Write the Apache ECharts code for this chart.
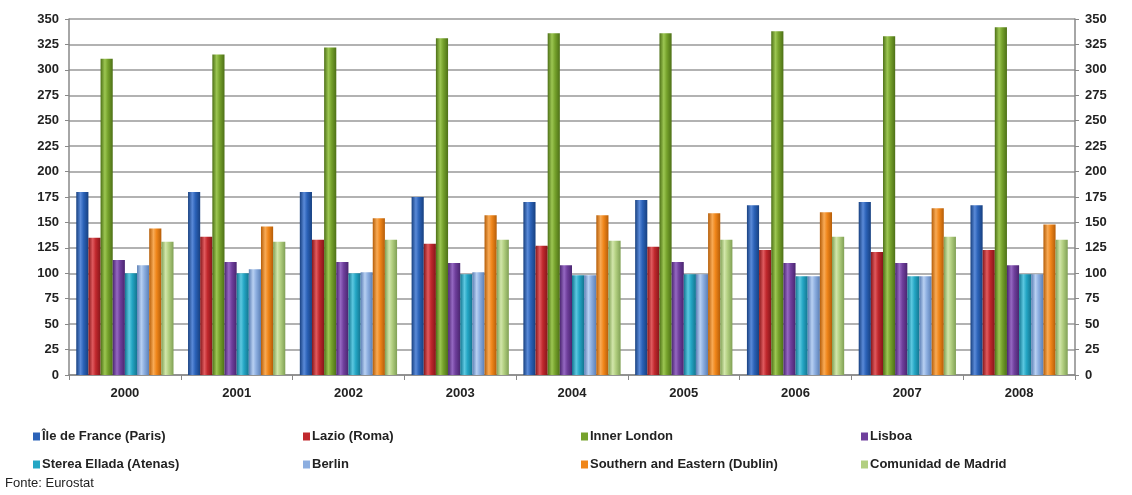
<!DOCTYPE html>
<html>
<head>
<meta charset="utf-8">
<script src="https://cdn.jsdelivr.net/npm/echarts@6/dist/echarts.min.js"></script>
<style>
html,body{margin:0;padding:0;background:#fff;}
#c{width:1132px;height:495px;}
</style>
</head>
<body>
<div id="c"></div>
<script>
const years = ['2000','2001','2002','2003','2004','2005','2006','2007','2008'];
const yTicks = [0,25,50,75,100,125,150,175,200,225,250,275,300,325,350];
const names = ['Île de France (Paris)','Lazio (Roma)','Inner London','Lisboa','Sterea Ellada (Atenas)','Berlin','Southern and Eastern (Dublin)','Comunidad de Madrid'];
const paris   = [180,180,180,175,170,172,167,170,167];
const roma    = [135,136,133,129,127,126,123,121,123];
const london  = [311,315,322,331,336,336,338,333,342];
const lisboa  = [113,111,111,110,108,111,110,110,108];
const atenas  = [100,100,100,99,98,99,97,97,99];
const berlin  = [108,104,101,101,98,99,97,97,99];
const dublin  = [144,146,154,157,157,159,160,164,148];
const madrid  = [131,131,133,133,132,133,136,136,133];
const seriesValues = [paris,roma,london,lisboa,atenas,berlin,dublin,madrid];
const colors = ['#2b62b8','#c0282d','#76a22c','#6f3f9c','#24a6c4','#8caee0','#f0861a','#b2cf80'];
const darks  = ['#174080','#86161a','#4d7016','#4a2570','#137590','#5b7fb5','#b55d08','#80a055'];
const lights = ['#5a8ad8','#e05a5e','#9cc652','#9568c2','#5cc8e0','#b8d0f2','#f8aa55','#d2e6aa'];

const font = "'Liberation Sans', Arial, sans-serif";

function grad(i){
  return new echarts.graphic.LinearGradient(0,0,1,0,[
    {offset:0,color:darks[i]},
    {offset:0.35,color:lights[i]},
    {offset:0.6,color:colors[i]},
    {offset:1,color:darks[i]}
  ]);
}

const series = names.map((n,i)=>({
  name:n,
  type:'bar',
  data:seriesValues[i],
  barGap:'0%',
  barCategoryGap:'13%',
  itemStyle:{color:grad(i)},
  yAxisIndex:0
}));

const cols = [[0,4],[1,5],[2,6],[3,7]];
const colLeft = [28,298,576,856];
const legends = cols.map((c,k)=>({
  orient:'vertical',
  left:colLeft[k],
  top:425,
  itemWidth:7,
  itemHeight:8,
  itemGap:15,
  icon:'rect',
  data:c.map(i=>({name:names[i],itemStyle:{color:colors[i]}})),
  textStyle:{fontFamily:font,fontSize:13,fontWeight:'bold',color:'#222',padding:[0,0,0,-3]},
  selectedMode:false
}));

const yAxisCommon = {
  type:'value',min:0,max:350,interval:25,
  axisLine:{show:true,lineStyle:{color:'#888',width:1.5}},
  axisTick:{show:true,length:4,lineStyle:{color:'#888'}},
  axisLabel:{fontFamily:font,fontSize:13,fontWeight:'bold',color:'#222',
    formatter:v=>yTicks.includes(v)?String(v):''}
};

const option = {
  animation:false,
  color:colors,
  grid:{left:69,right:57,top:19,bottom:120},
  legend:legends,
  xAxis:{
    type:'category',data:years,
    axisLine:{lineStyle:{color:'#888',width:1.5}},
    axisTick:{show:true,length:5,lineStyle:{color:'#888'}},
    axisLabel:{fontFamily:font,fontSize:13,fontWeight:'bold',color:'#222',margin:12}
  },
  yAxis:[
    Object.assign({},yAxisCommon,{position:'left',
      splitLine:{show:true,lineStyle:{color:'#999',width:1.5}},
      axisLabel:Object.assign({},yAxisCommon.axisLabel,{margin:10})}),
    Object.assign({},yAxisCommon,{position:'right',splitLine:{show:false},
      axisLabel:Object.assign({},yAxisCommon.axisLabel,{margin:10})})
  ],
  graphic:[{type:'text',left:5,top:477,style:{text:'Fonte: Eurostat',font:"13px "+font,fill:'#222'}}],
  series:series
};
echarts.init(document.getElementById('c')).setOption(option);
</script>
</body>
</html>
